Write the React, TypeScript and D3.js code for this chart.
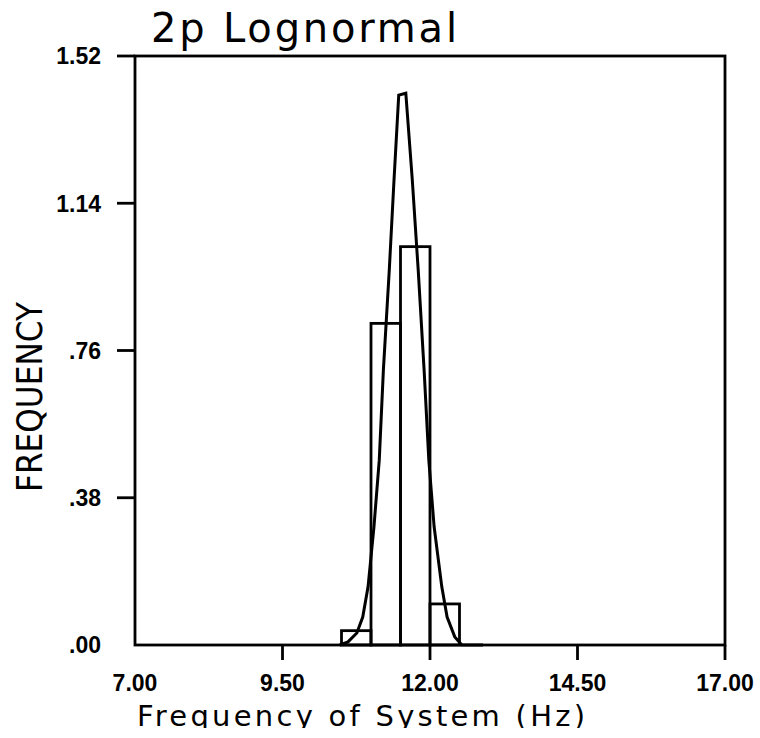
import React from "react";
import * as d3 from "d3";

const title = "2p Lognormal";
const xLabel = "Frequency of System (Hz)";
const yLabel = "FREQUENCY";

const xTicks = [9.5, 12, 14.5, 17];
const xTickLabels = ["7.00", "9.50", "12.00", "14.50", "17.00"];
const xTickLabelValues = [7, 9.5, 12, 14.5, 17];
const yTicks = [0.38, 0.76, 1.14, 1.52];
const yTickLabels = [".00", ".38", ".76", "1.14", "1.52"];
const yTickLabelValues = [0, 0.38, 0.76, 1.14, 1.52];

const binStarts = [10.5, 11.0, 11.5, 12.0];
const binWidth = 0.5;
const binHeights = [0.037, 0.83, 1.028, 0.106];

const curveHz = [10.47, 10.61, 10.76, 10.86, 10.95, 11.05, 11.14, 11.21, 11.31, 11.39, 11.47, 11.59, 11.7, 11.8, 11.9, 11.98, 12.07, 12.2, 12.29, 12.42, 12.54, 12.9];
const curveDensity = [0.0, 0.008, 0.031, 0.072, 0.15, 0.305, 0.477, 0.71, 0.968, 1.2, 1.419, 1.424, 1.2, 0.968, 0.71, 0.477, 0.305, 0.15, 0.072, 0.021, 0.0, 0.0];

export default function App() {
  const W = 760, H = 738;
  const x = d3.scaleLinear().domain([7, 17]).range([135, 725]);
  const y = d3.scaleLinear().domain([0, 1.52]).range([645, 56]);
  const pts: [number, number][] = curveHz.map((h, i) => [h, curveDensity[i]]);
  const line = d3.line<[number, number]>().x(d => x(d[0])).y(d => y(d[1]));
  const sw = 2.8;
  const tickFont = "'Liberation Sans', Arial, sans-serif";
  const thinFont = "'DejaVu Sans', sans-serif";
  return (
    <svg width={W} height={H} style={{ position: "absolute", left: 0, top: 0, background: "#fff" }}>
      <defs>
        <clipPath id="xlabclip">
          <rect x={0} y={0} width={W} height={728} />
        </clipPath>
      </defs>
      <rect x={0} y={0} width={W} height={H} fill="#fff" />
      {binStarts.map((b, i) => (
        <rect key={i} x={x(b)} y={y(binHeights[i])} width={x(b + binWidth) - x(b)} height={y(0) - y(binHeights[i])}
          fill="none" stroke="#000" strokeWidth={sw} />
      ))}
      <path d={line(pts) || ""} fill="none" stroke="#000" strokeWidth={3} strokeLinejoin="miter" />
      <rect x={x(7)} y={y(1.52)} width={x(17) - x(7)} height={y(0) - y(1.52)} fill="none" stroke="#000" strokeWidth={sw} />
      {xTicks.map((t, i) => (
        <line key={i} x1={x(t)} x2={x(t)} y1={y(0)} y2={y(0) + 15} stroke="#000" strokeWidth={sw} />
      ))}
      {yTicks.map((t, i) => (
        <line key={i} x1={x(7) - 18} x2={x(7)} y1={y(t)} y2={y(t)} stroke="#000" strokeWidth={sw} />
      ))}
      {xTickLabelValues.map((v, i) => (
        <text key={i} x={x(v)} y={691} textAnchor="middle" fontFamily={tickFont} fontWeight="bold" fontSize={23} fill="#000">
          {xTickLabels[i]}
        </text>
      ))}
      {yTickLabelValues.map((v, i) => (
        <text key={i} x={101} y={y(v)} dy="0.36em" textAnchor="end" fontFamily={tickFont} fontWeight="bold" fontSize={23} fill="#000">
          {yTickLabels[i]}
        </text>
      ))}
      <text x={151} y={42} fontFamily={thinFont} fontSize={40} textLength={306} lengthAdjust="spacing" fill="#000">
        {title}
      </text>
      <g clipPath="url(#xlabclip)">
        <text x={137} y={726} fontFamily={thinFont} fontSize={29} textLength={448} lengthAdjust="spacing" fill="#000">
          {xLabel}
        </text>
      </g>
      <text transform="translate(42,397) rotate(-90)" textAnchor="middle" fontFamily={thinFont} fontSize={35} textLength={190} lengthAdjust="spacingAndGlyphs" fill="#000">
        {yLabel}
      </text>
    </svg>
  );
}
